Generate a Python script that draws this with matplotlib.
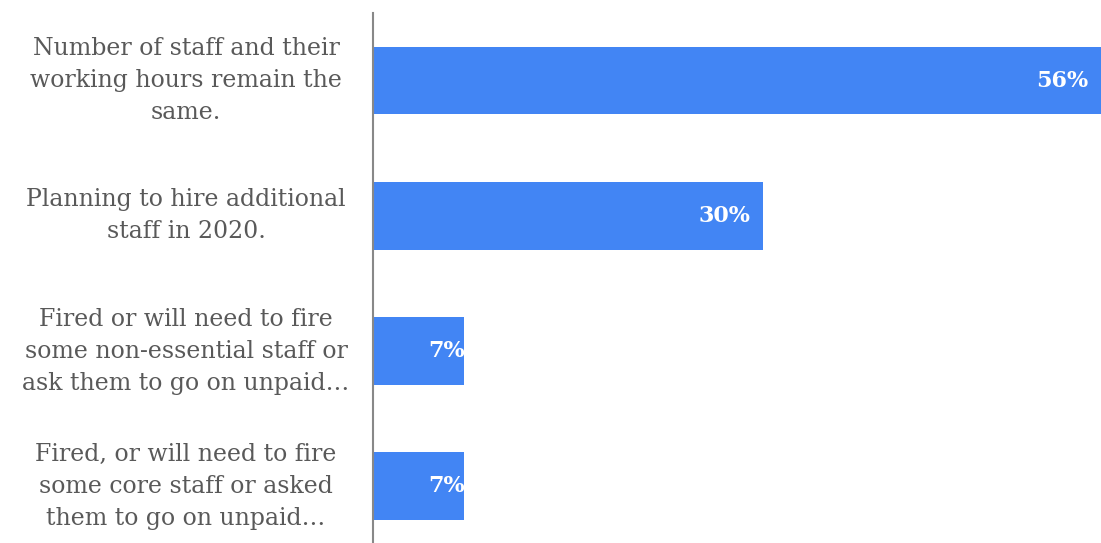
import matplotlib.pyplot as plt
import matplotlib.transforms as mtransforms

# survey answers about staffing, top to bottom
answers = [
    "Number of staff and their\nworking hours remain the\nsame.",
    "Planning to hire additional\nstaff in 2020.",
    "Fired or will need to fire\nsome non-essential staff or\nask them to go on unpaid…",
    "Fired, or will need to fire\nsome core staff or asked\nthem to go on unpaid…",
]
shares = [56, 30, 7, 7]

bar_color = "#4285f4"
text_color = "#595959"
font = "DejaVu Serif"

fig = plt.figure(figsize=(11.01, 5.43), dpi=100)
ax = fig.add_axes([373 / 1101, 0, 1 - 373 / 1101, 1 - 13 / 543])

pos = list(range(len(answers)))
bars = ax.barh(pos, shares, height=0.5, color=bar_color)
ax.set_xlim(0, max(shares))
ax.set_ylim(3.42, -0.5)

for s in ["top", "right", "bottom"]:
    ax.spines[s].set_visible(False)
ax.spines["left"].set_color("#888888")
ax.spines["left"].set_linewidth(1.5)
ax.set_xticks([])
ax.set_yticks([])

# category labels, centred in the space left of the axis
trans = mtransforms.blended_transform_factory(fig.transFigure, ax.transData)
for p, txt in zip(pos, answers):
    ax.text(186 / 1101, p, txt, transform=trans, ha="center", va="center",
            multialignment="center", fontsize=17, color=text_color,
            family=font, linespacing=1.5)

# value labels inside the bar ends, clipped to the bar
for b, v in zip(bars, shares):
    off = -13 if v > 10 else 1
    t = ax.annotate(f"{v}%", xy=(v, b.get_y() + b.get_height() / 2),
                    xytext=(off * 0.72, 0), textcoords="offset points",
                    ha="right", va="center", fontsize=16, fontweight="bold",
                    color="white", family=font)
    t.set_clip_path(b)

fig.savefig("out.png", dpi=100)
